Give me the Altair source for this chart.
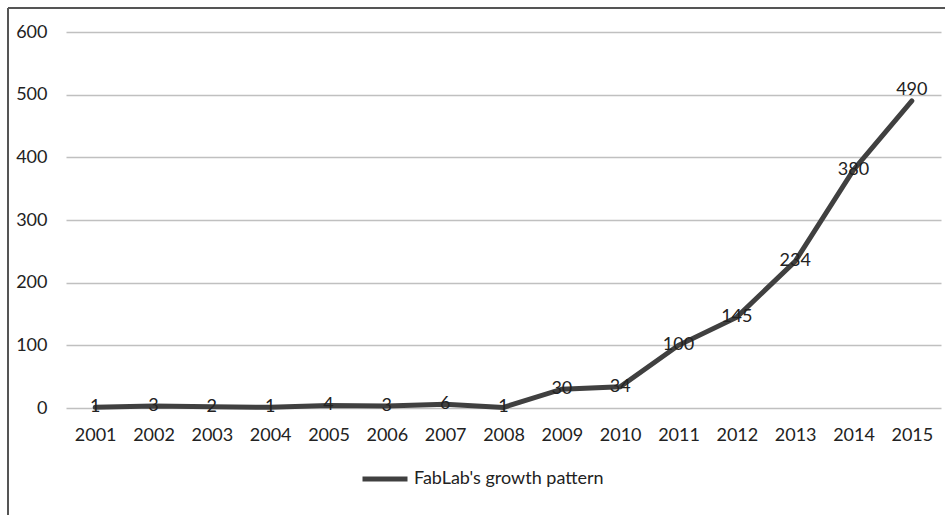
import altair as alt
import pandas as pd

years = [str(y) for y in range(2001, 2016)]
values = [1, 3, 2, 1, 4, 3, 6, 1, 30, 34, 100, 145, 234, 380, 490]
series_name = "FabLab's growth pattern"

df = pd.DataFrame({"year": years, "value": values, "series": [series_name] * len(years)})

FONT = "Lato"
FS = 18
W, H = 875, 376

x = alt.X("year:N", sort=years, title=None,
          scale=alt.Scale(paddingInner=0, paddingOuter=0.5),
          axis=alt.Axis(labelAngle=0, ticks=False, domain=False, grid=False,
                        labelFontSize=FS, labelFont=FONT, labelColor="#222",
                        labelPadding=18))
y = alt.Y("value:Q", title=None,
          scale=alt.Scale(domain=[0, 600], nice=False),
          axis=alt.Axis(values=[0, 100, 200, 300, 400, 500, 600], ticks=False, domain=False,
                        gridColor="#c0c0c0", gridWidth=1.5,
                        labelFontSize=FS, labelFont=FONT, labelColor="#222",
                        labelPadding=19))

line = alt.Chart(df).mark_line(strokeWidth=5, strokeCap="round").encode(
    x=x, y=y,
    color=alt.Color("series:N", title=None,
                    scale=alt.Scale(domain=[series_name], range=["#404040"]),
                    legend=alt.Legend(orient="none", legendX=294, legendY=422,
                                      symbolType="stroke", symbolSize=2025,
                                      symbolStrokeWidth=5, labelLimit=400,
                                      labelFontSize=FS, labelFont=FONT, labelColor="#222",
                                      labelOffset=4)))

labels = alt.Chart(df[df["year"] != "2015"]).mark_text(
    fontSize=FS, font=FONT, color="#222", baseline="middle").encode(
    x=alt.X("year:N", sort=years), y="value:Q", text="value:Q")

last_label = alt.Chart(df[df["year"] == "2015"]).mark_text(
    fontSize=FS, font=FONT, color="#222", baseline="middle", dy=-11).encode(
    x=alt.X("year:N", sort=years), y="value:Q", text="value:Q")

border_left = alt.Chart(df.head(1)).mark_rule(color="#555", strokeWidth=2, clip=False).encode(
    x=alt.value(-58), y=alt.value(-24), y2=alt.value(515))
border_top = alt.Chart(df.head(1)).mark_rule(color="#555", strokeWidth=2, clip=False).encode(
    x=alt.value(-58), x2=alt.value(W + 20), y=alt.value(-24))

chart = alt.layer(line, labels, last_label, border_left, border_top).properties(
    width=W, height=H,
    padding={"left": 66, "top": 32, "right": 4, "bottom": 107},
    autosize=alt.AutoSizeParams(type="none"),
    background="white",
).configure_view(stroke=None)

chart.save("out.html", embed_options={"renderer": "svg", "actions": False})
